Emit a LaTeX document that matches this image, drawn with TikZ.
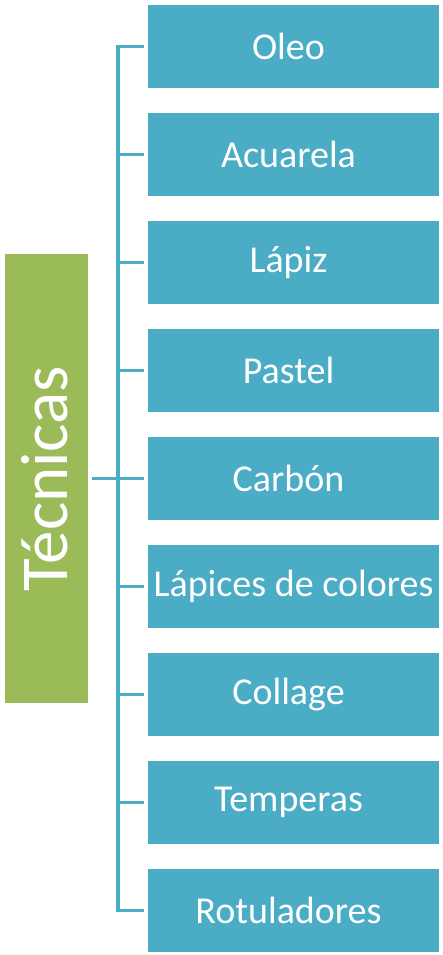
\documentclass[tikz,border=0pt]{standalone}
\usepackage{fontspec}
\setmainfont{Carlito}
\usepackage{xcolor}
\usepackage{tikz}
\definecolor{azul}{HTML}{4BACC6}
\definecolor{verde}{HTML}{9BBB59}
\tikzset{
  raiz/.style={fill=verde, minimum width=83pt, minimum height=449pt, inner sep=0pt},
  tit/.style={text=white, font=\fontsize{67}{70}\selectfont, rotate=90},
  cajaancha/.style={fill=azul, text=white, minimum width=291pt, minimum height=83pt,
    inner sep=0pt, font=\fontsize{38}{40}\selectfont},
  caja/.style={cajaancha, execute at begin node=\hspace*{-10pt}},
  con/.style={draw=azul, line width=3.5pt, shorten <=4pt, shorten >=4pt}
}

\begin{document}
\begin{tikzpicture}[x=1pt, y=-1pt]
\useasboundingbox (0,0) rectangle (443,955);
% categoria
\node[raiz] (tec) at (46.5,478.5) {};
\node[tit] (tectxt) at ([xshift=-2pt]tec) {Técnicas};
% tecnicas
\node[caja] (oleo) at (293.5,46.5) {Oleo};
\node[caja] (acuarela) at (293.5,154.5) {Acuarela};
\node[caja] (lapiz) at (293.5,262.5) {Lápiz};
\node[caja] (pastel) at (293.5,370.5) {Pastel};
\node[caja] (carbon) at (293.5,478.5) {Carbón};
\node[cajaancha] (colores) at (293.5,586.5) {Lápices de colores};
\node[caja] (collage) at (293.5,694.5) {Collage};
\node[caja] (temperas) at (293.5,802.5) {Temperas};
\node[caja] (rotul) at (293.5,910.5) {Rotuladores};
% conectores
\coordinate (arriba) at (118,46.5);
\coordinate (abajo) at (118,910.5);
\draw[con, line join=miter] (oleo.west) -- (arriba) -- (abajo) -- (rotul.west);
\draw[con, shorten <=0pt] (arriba |- acuarela) -- (acuarela.west);
\draw[con, shorten <=0pt] (arriba |- lapiz) -- (lapiz.west);
\draw[con, shorten <=0pt] (arriba |- pastel) -- (pastel.west);
\draw[con, shorten <=0pt] (arriba |- colores) -- (colores.west);
\draw[con, shorten <=0pt] (arriba |- collage) -- (collage.west);
\draw[con, shorten <=0pt] (arriba |- temperas) -- (temperas.west);
\draw[con] (tec.east) -- (carbon.west);
\end{tikzpicture}
\end{document}
